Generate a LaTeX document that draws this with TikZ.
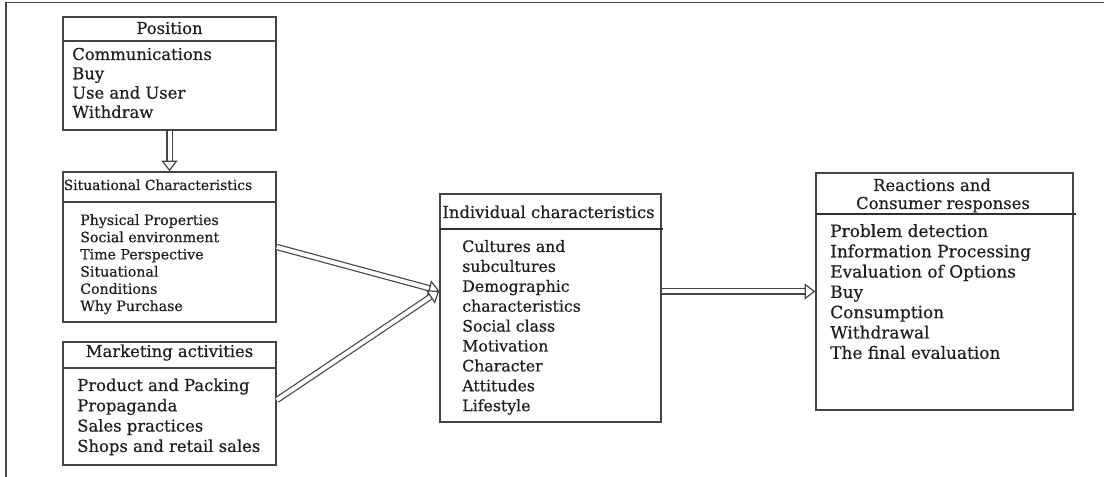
\documentclass[tikz,border=0pt]{standalone}
\usepackage{fontspec}
\setmainfont{DejaVu Serif}[FakeBold=0.5]
\usetikzlibrary{arrows.meta,fit}
\definecolor{ln}{HTML}{444444}
\definecolor{tx}{HTML}{1E1E1E}
\begin{document}
\begin{tikzpicture}[x=0.75pt,y=0.75pt,
  box/.style={draw=ln, line width=1.1pt, inner sep=0pt},
  divider/.style={draw=ln, line width=1.1pt},
  thickdiv/.style={draw=ln!70!black, line width=2pt},
  item/.style={anchor=base west, inner sep=0pt, text=tx, font=\fontsize{12.3}{14}\selectfont},
  smallitem/.style={anchor=base west, inner sep=0pt, text=tx, font=\fontsize{10.6}{12}\selectfont},
  ttl/.style={anchor=base, inner sep=0pt, text=tx, font=\fontsize{12.3}{14}\selectfont},
  flow/.style={draw=ln, double=white, double distance=3pt, line width=0.9pt,
    -{Triangle[fill=white, line width=0.9pt, length=8pt, width=12pt]}},
]
\useasboundingbox (0,0) rectangle (1104,477);
% outer frame
\draw[ln, line width=1.3pt] (6,0) -- (6,474.5) -- (1104,474.5);

% boxes
\node[box, fit={(63,347) (276,460)}] (pos) {};
\node[box, fit={(63,155) (276,305)}] (sit) {};
\node[box, fit={(63,12) (276,135)}] (mkt) {};
\node[box, fit={(440,55) (661,283)}] (ind) {};
\node[box, fit={(816,67) (1073,304)}] (rea) {};

% header dividers
\draw[divider] (63,436) -- (276,436);
\draw[divider] (63,275) -- (276,275);
\draw[divider] (63,109) -- (276,109);
\draw[thickdiv] (440,248) -- (663,248);
\draw[thickdiv] (816,263) -- (1076,263);

% Position
\node[ttl] (posT) at (169.5,443) {Position};
\foreach \t [count=\i] in {Communications, Buy, Use and User, Withdraw}
  \node[item] (pos\i) at (72,{417-(\i-1)*19.3}) {\t};

% Situational
\node[anchor=base west, inner sep=0pt, text=tx, font=\fontsize{10.4}{12}\selectfont] (sitT) at (63.5,287) {Situational Characteristics};
\foreach \t [count=\i] in {Physical Properties, Social environment, Time Perspective, Situational, Conditions, Why Purchase}
  \node[smallitem] (sit\i) at (80,{252-(\i-1)*17.2}) {\t};

% Marketing
\node[ttl] (mktT) at (169.5,120) {Marketing activities};
\foreach \t [count=\i] in {Product and Packing, Propaganda, Sales practices, Shops and retail sales}
  \node[item] (mkt\i) at (77,{86-(\i-1)*20.3}) {\t};

% Individual
\node[ttl] (indT) at (548.5,259) {Individual characteristics};
\foreach \t [count=\i] in {Cultures and, subcultures, Demographic, characteristics, Social class, Motivation, Character, Attitudes, Lifestyle}
  \node[item, font=\fontsize{11.8}{14}\selectfont] (ind\i) at (462,{225-(\i-1)*19.9}) {\t};

% Reactions
\node[ttl] (reaT1) at (932,286) {Reactions and};
\node[ttl] (reaT2) at (943,268) {Consumer responses};
\foreach \t [count=\i] in {Problem detection, Information Processing, Evaluation of Options, Buy, Consumption, Withdrawal, The final evaluation}
  \node[item, font=\fontsize{12.7}{14}\selectfont] (rea\i) at (830,{240-(\i-1)*20.3}) {\t};

% connectors
\coordinate (indIn) at ([yshift=12.75pt]ind.west);
\draw[flow] (pos.south) -- (sit.north);
\draw[flow] (sit.east) -- (indIn);
\draw[flow] ([yshift=2.6pt]mkt.east) -- (indIn);
\draw[flow] (ind.east |- rea.west) -- (rea.west);
\end{tikzpicture}
\end{document}
